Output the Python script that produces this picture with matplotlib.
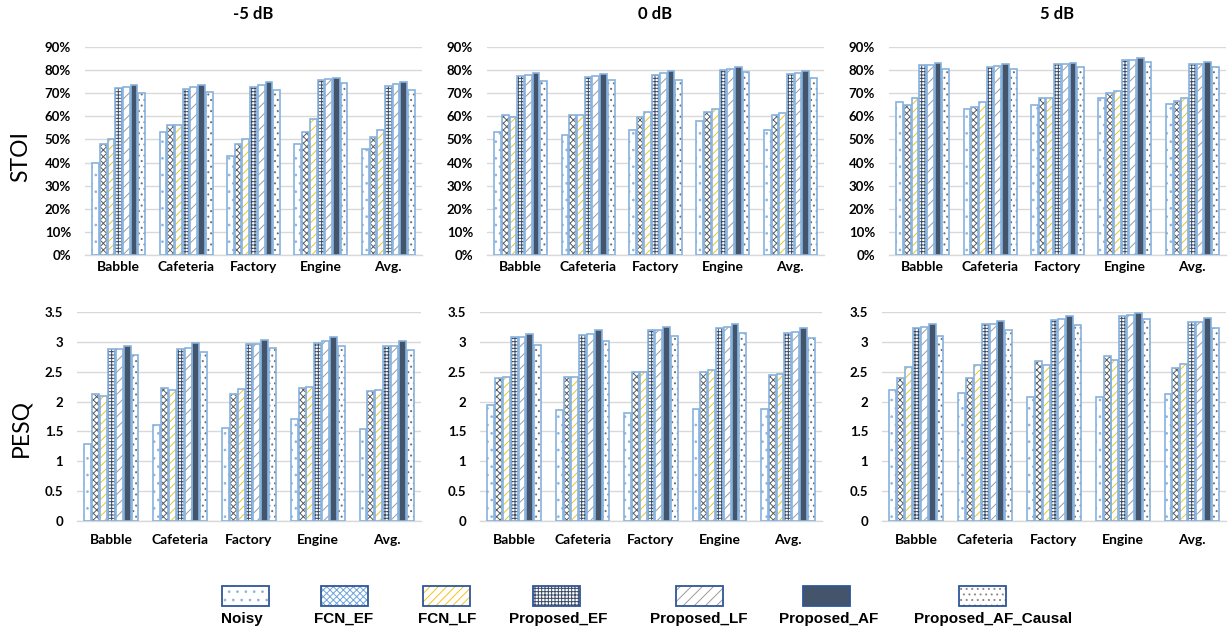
import matplotlib
matplotlib.use("Agg")
import matplotlib.pyplot as plt
from matplotlib.patches import Rectangle
from matplotlib import font_manager
import numpy as np

# ---------------- data ----------------
categories = ["Babble", "Cafeteria", "Factory", "Engine", "Avg."]
methods = ["Noisy", "FCN_EF", "FCN_LF", "Proposed_EF", "Proposed_LF",
           "Proposed_AF", "Proposed_AF_Causal"]
snr_titles = ["-5 dB", "0 dB", "5 dB"]

# STOI (%) per SNR: rows = methods, cols = categories
stoi_m5 = [
    [40, 53, 43, 48, 46],
    [48, 56, 48, 53, 51],
    [50, 56, 50, 59, 54],
    [72.2, 71.9, 72.7, 75.6, 73.2],
    [72.6, 72.5, 73.5, 75.9, 73.7],
    [73.5, 73.5, 74.6, 76.6, 74.6],
    [70.0, 70.4, 71.2, 74.2, 71.4],
]
stoi_0 = [
    [53, 52, 54, 58, 54.2],
    [60.7, 60.7, 59.7, 61.9, 60.7],
    [59.7, 60.7, 61.9, 62.9, 61.3],
    [77.5, 76.9, 77.9, 80.1, 78.2],
    [78.0, 77.5, 78.5, 80.5, 78.5],
    [78.5, 78.2, 79.4, 81.1, 79.4],
    [75.2, 75.5, 75.5, 79.1, 76.4],
]
stoi_p5 = [
    [66, 63, 65, 68, 65.4],
    [65, 64, 68, 70, 66.6],
    [68, 66, 68, 71, 67.9],
    [81.9, 81.1, 82.4, 84.3, 82.6],
    [81.9, 81.7, 82.6, 84.4, 82.6],
    [83.0, 82.6, 83.1, 85.1, 83.6],
    [80.3, 80.3, 81.3, 83.6, 81.3],
]
# PESQ per SNR
pesq_m5 = [
    [1.29, 1.60, 1.56, 1.71, 1.54],
    [2.13, 2.22, 2.12, 2.22, 2.17],
    [2.10, 2.19, 2.21, 2.25, 2.19],
    [2.88, 2.89, 2.97, 2.98, 2.93],
    [2.89, 2.90, 2.97, 3.01, 2.94],
    [2.93, 2.99, 3.04, 3.09, 3.01],
    [2.78, 2.84, 2.90, 2.93, 2.87],
]
pesq_0 = [
    [1.94, 1.85, 1.80, 1.88, 1.87],
    [2.39, 2.41, 2.49, 2.49, 2.44],
    [2.41, 2.42, 2.49, 2.53, 2.46],
    [3.08, 3.12, 3.20, 3.23, 3.16],
    [3.09, 3.14, 3.20, 3.25, 3.17],
    [3.13, 3.20, 3.26, 3.31, 3.23],
    [2.95, 3.02, 3.11, 3.16, 3.06],
]
pesq_p5 = [
    [2.20, 2.15, 2.08, 2.08, 2.13],
    [2.39, 2.40, 2.69, 2.76, 2.56],
    [2.58, 2.62, 2.62, 2.70, 2.63],
    [3.24, 3.30, 3.37, 3.43, 3.33],
    [3.25, 3.31, 3.38, 3.45, 3.34],
    [3.30, 3.35, 3.43, 3.49, 3.40],
    [3.11, 3.20, 3.28, 3.38, 3.24],
]
stoi_ticks = [0, 10, 20, 30, 40, 50, 60, 70, 80, 90]
pesq_ticks = [0, 0.5, 1, 1.5, 2, 2.5, 3, 3.5]

# ---------------- styles ----------------
EDGE = "#86B2DF"
face_colors = ["white", "white", "white", "white", "white", "#44546A", "white"]
hatch_colors = ["#8DB4E2", "#5A5A5A", "#F2C318", "#3B4B66", "#9A9A9A", "#44546A", "#707070"]
legend_hatch_colors = ["#8DB4E2", "#6FA3DA", "#F2C318", "#3B4B66", "#9A9A9A", "#44546A", "#8A8A8A"]
hatches = ["..", "xxxxx", "////", "+++++", "///", None, "..."]

plt.rcParams["hatch.linewidth"] = 0.7

W, H = 1232, 633
fig = plt.figure(figsize=(W / 100, H / 100), dpi=100)

avail = {f.name for f in font_manager.fontManager.ttflist}
tick_font = "Lato" if "Lato" in avail else "DejaVu Sans"
leg_font = "Liberation Sans Narrow" if "Liberation Sans Narrow" in avail else "Liberation Sans"
leg_size = 13.5 if leg_font == "Liberation Sans Narrow" else 11


def px_axes(x0, x1, ytop, ybot):
    return fig.add_axes([x0 / W, 1 - ybot / H, (x1 - x0) / W, (ybot - ytop) / H])


top_pos = [(85, 422), (487, 824), (889, 1226)]
bot_pos = [(77, 421), (480, 822), (882, 1226)]
top_y = (46.7, 255.2)
bot_y = (312.3, 520.6)

stoi_all = [stoi_m5, stoi_0, stoi_p5]
pesq_all = [pesq_m5, pesq_0, pesq_p5]

x = np.arange(len(categories))
n = len(methods)
step = 0.8 / n
bw = step * 0.88


def draw_panel(ax, data, ticks, fmt, ymax, xpad):
    for i in range(n):
        off = (i - (n - 1) / 2) * step
        vals = data[i]
        ax.bar(x + off, vals, width=bw, color=face_colors[i],
               edgecolor=hatch_colors[i], hatch=hatches[i], linewidth=0, zorder=2)
        ax.bar(x + off, vals, width=bw, facecolor="none",
               edgecolor=EDGE, linewidth=1.2, zorder=3)
    ax.set_xlim(-0.5, len(categories) - 0.5)
    ax.set_ylim(0, ymax)
    ax.set_yticks(ticks)
    ax.set_yticklabels([fmt(t) for t in ticks], fontfamily=tick_font,
                       fontweight="bold", fontsize=9.5)
    ax.set_xticks(x)
    ax.set_xticklabels(categories, fontfamily=tick_font, fontweight="bold",
                       fontsize=10)
    ax.tick_params(axis="both", length=0)
    ax.tick_params(axis="y", pad=10)
    ax.tick_params(axis="x", pad=xpad)
    ax.grid(axis="y", color="#D9D9D9", linewidth=1.0, zorder=0)
    ax.set_axisbelow(True)
    for s in ["top", "right", "left"]:
        ax.spines[s].set_visible(False)
    ax.spines["bottom"].set_color("#D9D9D9")
    ax.spines["bottom"].set_linewidth(1.0)


for k in range(3):
    ax = px_axes(top_pos[k][0], top_pos[k][1], *top_y)
    draw_panel(ax, stoi_all[k], stoi_ticks, lambda t: f"{t}%", 90, 4)
    ax = px_axes(bot_pos[k][0], bot_pos[k][1], *bot_y)
    draw_panel(ax, pesq_all[k], pesq_ticks,
               lambda t: f"{t:g}", 3.5, 10)
    cx = (top_pos[k][0] + top_pos[k][1]) / 2
    fig.text(cx / W, 1 - 14 / H, snr_titles[k], ha="center", va="center",
             fontfamily=tick_font, fontweight="bold", fontsize=12)

fig.text(21 / W, 1 - 157 / H, "STOI", rotation=90, ha="center", va="center",
         fontfamily=tick_font, fontsize=16.5)
fig.text(21 / W, 1 - 428 / H, "PESQ", rotation=90, ha="center", va="center",
         fontfamily=tick_font, fontsize=16.5)

# ---------------- legend (custom: swatch above label) ----------------
lax = fig.add_axes([0, 0, 1, 1])
lax.set_xlim(0, W)
lax.set_ylim(H, 0)
lax.axis("off")
box_left = [222, 321, 423, 533, 676, 803, 959]
label_cx = [242, 344, 447, 558, 699, 829, 993]
for i in range(n):
    lax.add_patch(Rectangle((box_left[i], 586), 47, 20, facecolor=face_colors[i],
                            edgecolor=legend_hatch_colors[i], hatch=hatches[i],
                            linewidth=0))
    lax.add_patch(Rectangle((box_left[i], 586), 47, 20, facecolor="none",
                            edgecolor="#2F5597", linewidth=1.3))
    lax.text(label_cx[i], 619, methods[i], ha="center", va="center",
             fontfamily=leg_font, fontweight="bold", fontsize=leg_size)

fig.savefig("out.png", dpi=100)
